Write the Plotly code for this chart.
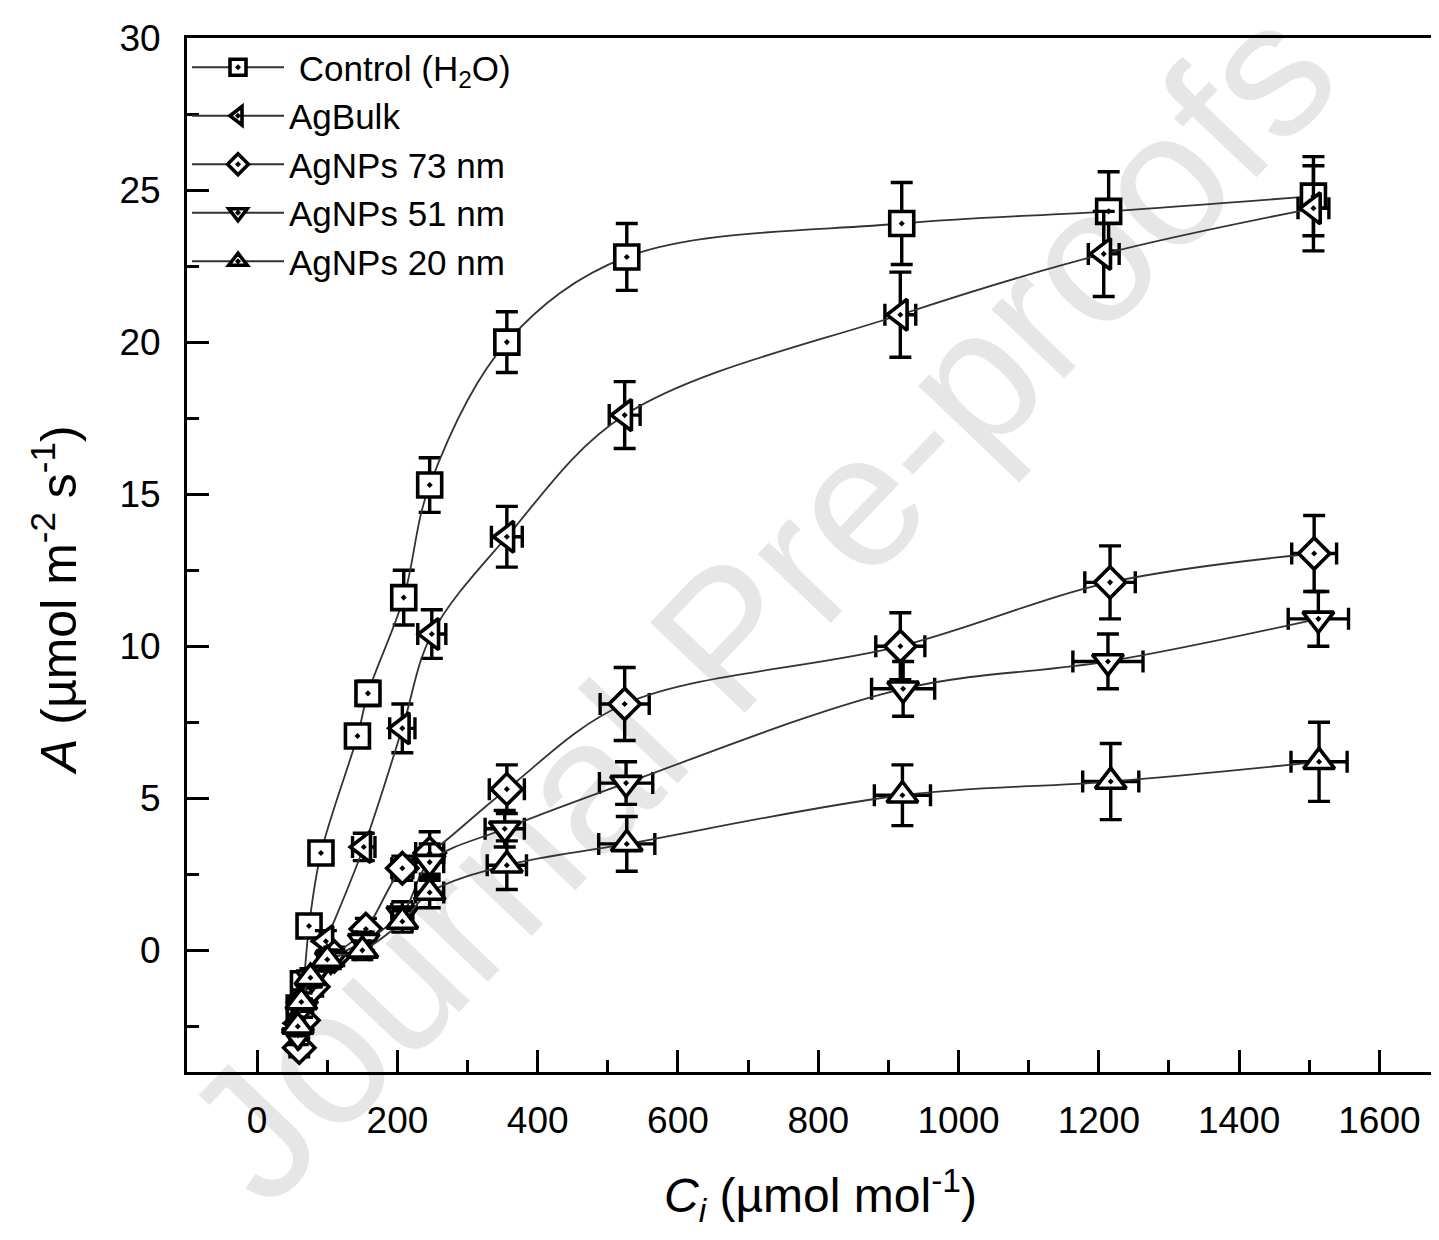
import plotly.graph_objects as go

# ---------------- data ----------------
series_names = ["\u00a0Control (H<sub>2</sub>O)", "AgBulk", "AgNPs 73 nm", "AgNPs 51 nm", "AgNPs 20 nm"]

ci_ctrl = [60, 66, 74, 91, 143, 158, 209, 246, 356, 527, 919, 1214, 1506]
a_ctrl = [-1.9, -1.1, 0.8, 3.2, 7.05, 8.45, 11.6, 15.3, 20.0, 22.8, 23.9, 24.3, 24.8]
ea_ctrl = [0.3, 0.3, 0.3, 0.3, 0.35, 0.4, 0.9, 0.9, 1.0, 1.1, 1.35, 1.3, 1.3]
eci_ctrl = [4, 4, 4, 5, 6, 6, 8, 8, 10, 12, 12, 12, 12]

ci_bulk = [58, 64, 98, 152, 207, 249, 356, 524, 917, 1207, 1506]
a_bulk = [-2.4, -1.6, 0.3, 3.4, 7.3, 10.4, 13.6, 17.6, 20.9, 22.9, 24.4]
ea_bulk = [0.3, 0.3, 0.35, 0.45, 0.8, 0.8, 1.0, 1.1, 1.4, 1.4, 1.4]
eci_bulk = [5, 5, 8, 16, 18, 20, 22, 22, 22, 22, 22]

ci_73 = [60, 66, 80, 110, 155, 207, 246, 356, 524, 917, 1216, 1507]
a_73 = [-3.2, -2.3, -1.2, -0.2, 0.7, 2.7, 3.2, 5.3, 8.1, 10.0, 12.1, 13.05]
ea_73 = [0.3, 0.3, 0.3, 0.3, 0.35, 0.4, 0.7, 0.8, 1.2, 1.1, 1.2, 1.25]
eci_73 = [5, 5, 6, 8, 10, 15, 20, 25, 35, 35, 36, 32]

ci_51 = [58, 64, 78, 105, 152, 207, 246, 353, 526, 921, 1213, 1513]
a_51 = [-2.8, -1.9, -0.9, -0.3, 0.3, 1.2, 2.9, 4.0, 5.5, 8.6, 9.5, 10.9]
ea_51 = [0.3, 0.3, 0.3, 0.3, 0.3, 0.4, 0.6, 0.6, 0.7, 0.9, 0.9, 0.9]
eci_51 = [5, 5, 6, 8, 10, 15, 20, 28, 38, 45, 50, 43]

ci_20 = [58, 63, 76, 100, 150, 207, 246, 356, 527, 920, 1217, 1514]
a_20 = [-2.5, -1.7, -0.9, -0.3, 0.0, 0.95, 1.9, 2.8, 3.5, 5.1, 5.55, 6.2]
ea_20 = [0.3, 0.3, 0.3, 0.3, 0.3, 0.35, 0.5, 0.8, 0.9, 1.0, 1.25, 1.3]
eci_20 = [5, 5, 6, 8, 10, 14, 20, 28, 40, 40, 40, 40]

x_ticks = [0, 200, 400, 600, 800, 1000, 1200, 1400, 1600]
y_ticks = [0, 5, 10, 15, 20, 25, 30]

# ---------------- layout geometry ----------------
OFF = 8                      # page body margin
W, H = 1439 - OFF, 1240 - OFF
L, T = 187 - OFF, 38 - OFF
B = H - (1072 - OFF)
R = 0
PW, PH = W - L - R, H - T - B
FONT = "Liberation Sans, Arial, Helvetica, sans-serif"


def px(xp):
    return (xp - OFF - L) / PW


def py(yp):
    return (H - B - (yp - OFF)) / PH


fig = go.Figure()

series = [
    (series_names[0], ci_ctrl, a_ctrl, eci_ctrl, ea_ctrl, "square-dot", 24),
    (series_names[1], ci_bulk, a_bulk, eci_bulk, ea_bulk, "triangle-left-dot", 27),
    (series_names[2], ci_73, a_73, eci_73, ea_73, "diamond-dot", 24),
    (series_names[3], ci_51, a_51, eci_51, ea_51, "triangle-down-dot", 27),
    (series_names[4], ci_20, a_20, eci_20, ea_20, "triangle-up-dot", 27),
]

for name, x, y, ex, ey, sym, size in series:
    fig.add_trace(go.Scatter(
        x=x, y=y, name=name, mode="lines+markers",
        line=dict(color="#333333", width=1.8, shape="spline", smoothing=1.0),
        marker=dict(symbol=sym, size=size, color="white",
                    line=dict(color="black", width=3.6)),
        error_y=dict(type="data", array=ey, color="black", thickness=3.4, width=11),
        error_x=dict(type="data", array=ex, color="black", thickness=3.4, width=11),
    ))

# watermark (drawn below the data)
fig.add_shape(
    type="line", xref="paper", yref="paper",
    x0=px(290), y0=py(1225), x1=px(1360), y1=py(105),
    line=dict(color="rgba(0,0,0,0)", width=1), layer="below",
    label=dict(text="Journal Pre-proofs", textposition="middle",
               font=dict(size=190, color="#e6e6e6", family=FONT)),
)

axis_common = dict(
    showline=True, linecolor="black", linewidth=3,
    ticks="inside", ticklen=22, tickwidth=2.5, tickcolor="black",
    showgrid=False, zeroline=False,
    tickfont=dict(size=37, color="black", family=FONT),
)

fig.update_xaxes(
    range=[-100, 1685], tickvals=x_ticks, mirror=True,
    minor=dict(ticks="inside", ticklen=12, tickwidth=2.5, tickcolor="black", dtick=100, tick0=0),
    ticklabelstandoff=14,
    **axis_common,
)
fig.update_yaxes(
    range=[-4, 30], tickvals=y_ticks,
    minor=dict(ticks="inside", ticklen=12, tickwidth=2.5, tickcolor="black", dtick=2.5, tick0=0),
    ticklabelstandoff=16,
    **axis_common,
)

# axis titles
fig.add_annotation(
    text="<i>A</i> (µmol m<sup>-2</sup> s<sup>-1</sup>)",
    xref="paper", yref="paper", x=px(55), y=py(600),
    textangle=-90, showarrow=False, xanchor="center", yanchor="middle",
    font=dict(size=50, color="black", family=FONT),
)
fig.add_annotation(
    text="<i>C<sub>i</sub></i> (µmol mol<sup>-1</sup>)",
    xref="paper", yref="paper", x=px(820), y=py(1195),
    showarrow=False, xanchor="center", yanchor="middle",
    font=dict(size=48, color="black", family=FONT),
)

fig.update_layout(
    width=W, height=H,
    margin=dict(l=L, r=R, t=T, b=B, pad=0),
    paper_bgcolor="white", plot_bgcolor="white",
    font=dict(family=FONT, color="black"),
    showlegend=True,
    legend=dict(x=0.0, y=1.0, xanchor="left", yanchor="top",
                bgcolor="rgba(0,0,0,0)", borderwidth=0,
                font=dict(size=35, color="black", family=FONT),
                itemwidth=92, tracegroupgap=0),
)

fig.write_html("out.html")
